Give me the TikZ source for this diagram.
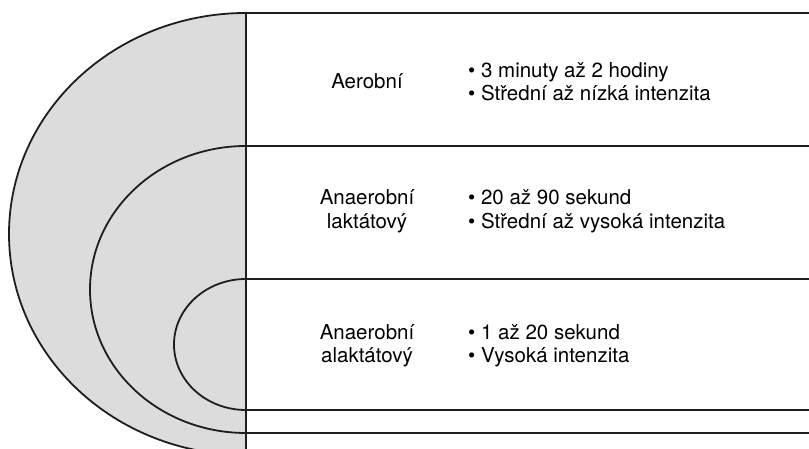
\documentclass[tikz,border=0pt]{standalone}
\usepackage{fontspec}
\setmainfont{TeX Gyre Heros}
\definecolor{fillgray}{HTML}{DCDCDC}
\definecolor{linec}{HTML}{1E1E1E}
\begin{document}
\begin{tikzpicture}[x=1pt,y=1pt,
  edge/.style={draw=linec,line width=1.8pt},
  lbl/.style={align=center,inner sep=0pt,font=\fontsize{20.5}{23.5}\selectfont},
  bul/.style={align=left,anchor=west,inner sep=0pt,font=\fontsize{20.5}{23.5}\selectfont}]
\useasboundingbox (0,0) rectangle (809,449);
\begin{scope}
\clip (0,0) rectangle (809,449);
% gray filled half-ellipse
\fill[fillgray] (246,436) arc[start angle=90,end angle=270,x radius=237,y radius=221] -- cycle;
% outer curve
\draw[edge] (809,436) -- (246,436) arc[start angle=90,end angle=270,x radius=237,y radius=221];
% middle curve
\draw[edge] (809,303) -- (246,303) arc[start angle=90,end angle=270,x radius=156,y radius=143.5] -- (809,16);
% inner curve
\draw[edge] (809,170) -- (246,170) arc[start angle=90,end angle=270,x radius=72,y radius=65.5] -- (809,39);
% vertical line
\draw[edge] (246,436) -- (246,0);
\end{scope}
% texts
\node[lbl] (l1) at (367,367.5) {Aerobní};
\node[bul] (b1) at (468,367.5) {• 3 minuty až 2 hodiny\\• Střední až nízká intenzita};
\node[lbl] (l2) at (367,237.5) {Anaerobní\\laktátový};
\node[bul] (b2) at (468,237.5) {• 20 až 90 sekund\\• Střední až vysoká intenzita};
\node[lbl] (l3) at (367,103) {Anaerobní\\alaktátový};
\node[bul] (b3) at (468,103) {• 1 až 20 sekund\\• Vysoká intenzita};
\end{tikzpicture}
\end{document}
